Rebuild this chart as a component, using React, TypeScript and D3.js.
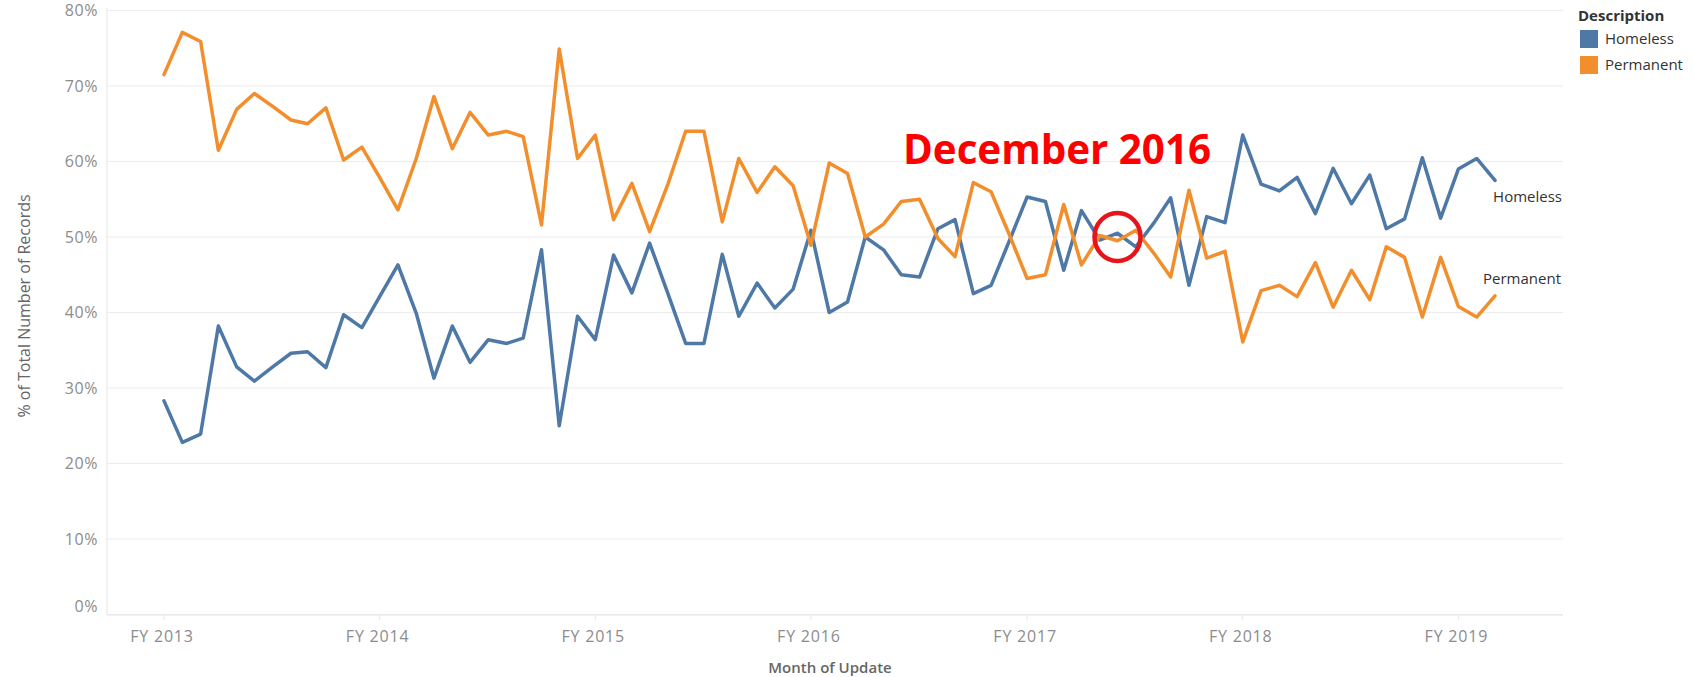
import React from "react";
import * as d3 from "d3";

const months: string[] = [
  "2012-07","2012-08","2012-09","2012-10","2012-11","2012-12",
  "2013-01","2013-02","2013-03","2013-04","2013-05","2013-06",
  "2013-07","2013-08","2013-09","2013-10","2013-11","2013-12",
  "2014-01","2014-02","2014-03","2014-04","2014-05","2014-06",
  "2014-07","2014-08","2014-09","2014-10","2014-11","2014-12",
  "2015-01","2015-02","2015-03","2015-04","2015-05","2015-06",
  "2015-07","2015-08","2015-09","2015-10","2015-11","2015-12",
  "2016-01","2016-02","2016-03","2016-04","2016-05","2016-06",
  "2016-07","2016-08","2016-09","2016-10","2016-11","2016-12",
  "2017-01","2017-02","2017-03","2017-04","2017-05","2017-06",
  "2017-07","2017-08","2017-09","2017-10","2017-11","2017-12",
  "2018-01","2018-02","2018-03","2018-04","2018-05","2018-06",
  "2018-07","2018-08","2018-09",
];

const homeless: number[] = [
  28.3, 22.8, 23.9, 38.2, 32.8, 30.9, 32.8, 34.6, 34.8, 32.7, 39.7, 38.0,
  42.1, 46.3, 39.9, 31.3, 38.2, 33.4, 36.4, 35.9, 36.6, 48.3, 25.0, 39.5,
  36.4, 47.6, 42.6, 49.2, 42.5, 35.9, 35.9, 47.7, 39.5, 43.9, 40.6, 43.1,
  50.9, 40.0, 41.4, 50.0, 48.3, 45.0, 44.7, 51.1, 52.3, 42.5, 43.6, 49.5,
  55.3, 54.7, 45.6, 53.5, 49.6, 50.5, 48.7, 51.9, 55.2, 43.6, 52.7, 51.9,
  63.5, 57.0, 56.1, 57.9, 53.1, 59.1, 54.4, 58.2, 51.1, 52.4, 60.5, 52.5,
  59.0, 60.4, 57.5,
];

const permanent: number[] = [
  71.5, 77.1, 75.9, 61.5, 66.9, 69.0, 67.3, 65.5, 65.0, 67.1, 60.2, 61.9,
  57.9, 53.6, 60.4, 68.6, 61.7, 66.5, 63.5, 64.0, 63.3, 51.6, 74.9, 60.4,
  63.5, 52.3, 57.1, 50.7, 57.0, 64.0, 64.0, 52.0, 60.4, 55.9, 59.3, 56.8,
  48.9, 59.8, 58.4, 50.0, 51.7, 54.7, 55.0, 49.8, 47.4, 57.2, 56.0, 50.3,
  44.5, 45.0, 54.3, 46.3, 50.2, 49.5, 50.9, 47.8, 44.7, 56.2, 47.2, 48.1,
  36.1, 42.9, 43.6, 42.1, 46.6, 40.7, 45.6, 41.7, 48.7, 47.3, 39.4, 47.3,
  40.8, 39.4, 42.2,
];

const fyTicks: string[] = ["2012-07","2013-07","2014-07","2015-07","2016-07","2017-07","2018-07"];
const fyLabels: string[] = ["FY 2013","FY 2014","FY 2015","FY 2016","FY 2017","FY 2018","FY 2019"];
const yTicks: number[] = [0, 10, 20, 30, 40, 50, 60, 70, 80];

const seriesNames = ["Homeless", "Permanent"];
const colors = ["#4e79a7", "#f28e2b"];
const highlightMonth = "2016-12";
const annotationText = "December 2016";

const W = 1694;
const H = 677;
const FONT = "'Open Sans', 'DejaVu Sans', sans-serif";

export default function App() {
  const parse = d3.utcParse("%Y-%m");
  const dates = months.map((m) => parse(m) as Date);
  const first = dates[0];
  const last = dates[dates.length - 1];
  const msPerPx = (last.getTime() - first.getTime()) / (1495 - 164);
  const x = d3
    .scaleUtc()
    .domain([
      new Date(first.getTime() - (164 - 107) * msPerPx),
      new Date(last.getTime() + (1563 - 1495) * msPerPx),
    ])
    .range([107, 1563]);
  const y = d3.scaleLinear().domain([0, 80]).range([614.5, 10.5]);

  const line = d3
    .line<number>()
    .x((_, i) => x(dates[i]))
    .y((d) => y(d));

  const series = [homeless, permanent];
  const hi = months.indexOf(highlightMonth);
  const hx = x(dates[hi]);
  const hy = y((homeless[hi] + permanent[hi]) / 2);

  return (
    <svg
      width={W}
      height={H}
      style={{ position: "absolute", left: 0, top: 0, background: "#fff" }}
      fontFamily={FONT}
    >
      {/* gridlines */}
      {yTicks.map((t) => (
        <line key={t} x1={107} x2={1563} y1={y(t)} y2={y(t)} stroke="#ececec" strokeWidth={1} />
      ))}
      <line x1={107} x2={107} y1={8} y2={615} stroke="#e6e6e6" />
      <line x1={107} x2={1563} y1={615} y2={615} stroke="#e6e6e6" />
      {/* y tick labels */}
      {yTicks.map((t) => (
        <text
          key={t}
          x={98}
          y={t === 0 ? y(t) - 8 : y(t)}
          dy="0.35em"
          textAnchor="end"
          fontSize={16}
          letterSpacing={0.6}
          fill="#8c8c8c"
        >
          {t}%
        </text>
      ))}
      {/* x ticks */}
      {fyTicks.map((m, i) => {
        const xx = x(parse(m) as Date);
        return (
          <g key={m}>
            <line x1={xx} x2={xx} y1={615} y2={620} stroke="#e6e6e6" />
            <text
              x={xx - 2}
              y={636}
              dy="0.35em"
              textAnchor="middle"
              fontSize={16}
              letterSpacing={0.8}
              fill="#8c8c8c"
            >
              {fyLabels[i]}
            </text>
          </g>
        );
      })}
      {/* axis titles */}
      <text
        transform={`translate(24,306) rotate(-90)`}
        textAnchor="middle"
        dy="0.35em"
        fontSize={16}
        fill="#666"
      >
        % of Total Number of Records
      </text>
      <text x={830} y={668} dy="0.35em" textAnchor="middle" fontSize={15} fontWeight={600} fill="#666">
        Month of Update
      </text>
      {/* lines */}
      {series.map((s, k) => (
        <path
          key={k}
          d={line(s) || ""}
          fill="none"
          stroke={colors[k]}
          strokeWidth={3.5}
          strokeLinejoin="round"
          strokeLinecap="round"
        />
      ))}
      {/* line end labels */}
      <text x={1562} y={197} dy="0.35em" textAnchor="end" fontSize={15} fill="#333">
        {seriesNames[0]}
      </text>
      <text x={1561} y={279} dy="0.35em" textAnchor="end" fontSize={15} fill="#333">
        {seriesNames[1]}
      </text>
      {/* legend */}
      <text x={1578} y={16} dy="0.35em" fontSize={15} fontWeight={700} fill="#333">
        Description
      </text>
      {seriesNames.map((n, k) => (
        <g key={n} transform={`translate(1580,${30 + k * 26})`}>
          <rect width={18} height={18} fill={colors[k]} />
          <text x={25} y={9} dy="0.35em" fontSize={15} fill="#333">
            {n}
          </text>
        </g>
      ))}
      {/* annotation */}
      <text
        x={903}
        y={149}
        dy="0.35em"
        fontSize={42}
        fontWeight={700}
        fill="#ff0000"
        textLength={308}
        lengthAdjust="spacingAndGlyphs"
      >
        {annotationText}
      </text>
      <ellipse cx={hx} cy={hy} rx={23} ry={24} fill="none" stroke="#e8141b" strokeWidth={4.5} />
    </svg>
  );
}
